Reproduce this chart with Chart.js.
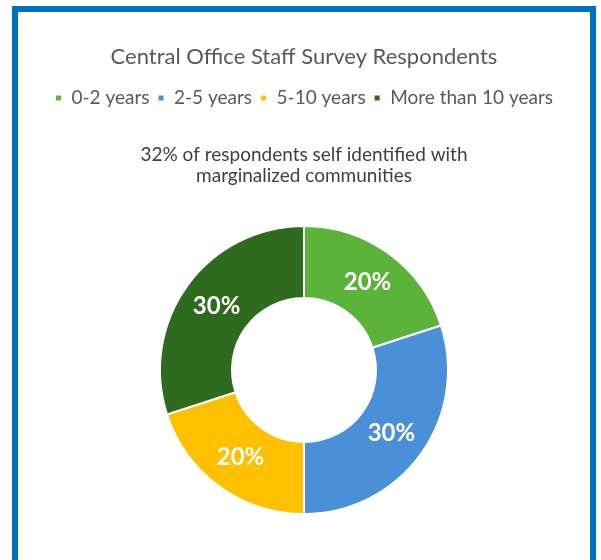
<!DOCTYPE html>
<html>
<head>
<meta charset="utf-8">
<script src="https://cdn.jsdelivr.net/npm/chart.js@4"></script>
<style>
  html, body { margin: 0; padding: 0; background: #ffffff; }
  body { width: 601px; height: 560px; position: relative; overflow: hidden; }
  #frame {
    position: absolute; left: 12px; top: 6px; width: 572px; height: 560px;
    border-left: 6px solid #0070C0; border-right: 6px solid #0070C0; border-top: 6px solid #0070C0;
    background: #ffffff;
  }
  #wrap { position: absolute; left: 0; top: 0; width: 572px; height: 548px; }
</style>
</head>
<body>
<div id="frame"><div id="wrap"><canvas id="chart"></canvas></div></div>
<script>
// Tenure groups of central office staff and their share of respondents (%)
const categories = ['0-2 years', '2-5 years', '5-10 years', 'More than 10 years'];
const shares = [20, 30, 20, 30];
const sliceColors = ['#5BB33A', '#4A90D9', '#FFC000', '#2E6B1F'];
const titleText = 'Central Office Staff Survey Respondents';
const noteLines = ['32% of respondents self identified with', 'marginalized communities'];

// Writes each slice's percentage in the middle of its ring segment
const sliceLabels = {
  id: 'sliceLabels',
  afterDatasetsDraw(chart) {
    const { ctx } = chart;
    const meta = chart.getDatasetMeta(0);
    ctx.save();
    ctx.fillStyle = '#ffffff';
    ctx.font = 'bold 24px Lato';
    ctx.textAlign = 'center';
    ctx.textBaseline = 'middle';
    meta.data.forEach((arc, i) => {
      const p = arc.tooltipPosition();
      ctx.fillText(shares[i] + '%', p.x, p.y);
    });
    ctx.restore();
  }
};

new Chart(document.getElementById('chart'), {
  type: 'doughnut',
  data: {
    labels: categories,
    datasets: [{
      data: shares,
      backgroundColor: sliceColors,
      borderColor: '#ffffff',
      borderWidth: 2,
      hoverOffset: 0
    }]
  },
  options: {
    responsive: true,
    maintainAspectRatio: false,
    animation: false,
    cutout: '50%',
    layout: { padding: { top: 0, bottom: 45, left: 0, right: 0 } },
    plugins: {
      title: {
        display: true,
        text: titleText,
        color: '#595959',
        font: { family: 'Lato', size: 22, weight: 'normal' },
        padding: { top: 32, bottom: 10 }
      },
      legend: {
        position: 'top',
        labels: {
          color: '#595959',
          font: { family: 'Lato', size: 19 },
          boxWidth: 7,
          boxHeight: 7,
          padding: 8
        }
      },
      subtitle: {
        display: true,
        weight: 500,
        text: noteLines,
        color: '#404040',
        font: { family: 'Lato', size: 19, lineHeight: 1.12 },
        padding: { top: 27, bottom: 38 }
      },
      tooltip: { enabled: false }
    }
  },
  plugins: [sliceLabels]
});
</script>
</body>
</html>
